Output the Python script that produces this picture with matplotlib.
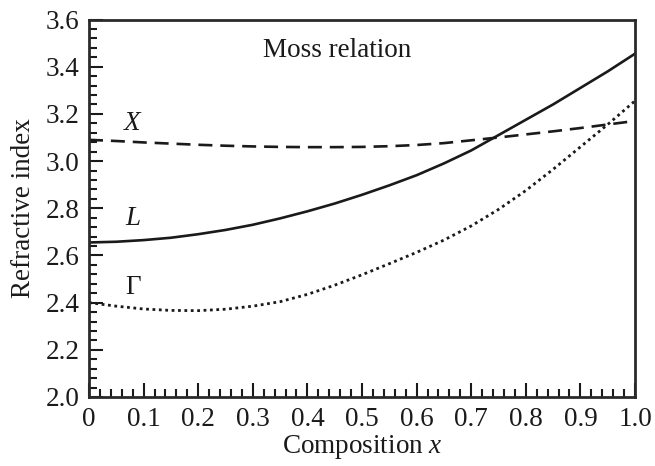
import matplotlib
matplotlib.use("Agg")
import matplotlib.pyplot as plt
from matplotlib.ticker import MultipleLocator

plt.rcParams['font.family'] = ['Liberation Serif', 'DejaVu Serif']
plt.rcParams['mathtext.fontset'] = 'custom'
plt.rcParams['mathtext.it'] = 'Liberation Serif:italic'
plt.rcParams['mathtext.rm'] = 'Liberation Serif'

composition = [0.00, 0.05, 0.10, 0.15, 0.20, 0.25, 0.30, 0.35, 0.40, 0.45, 0.50,
               0.55, 0.60, 0.65, 0.70, 0.75, 0.80, 0.85, 0.90, 0.95, 1.00]
n_L = [2.655, 2.658, 2.665, 2.675, 2.690, 2.708, 2.730, 2.757, 2.787, 2.820, 2.857,
       2.897, 2.940, 2.990, 3.045, 3.110, 3.175, 3.240, 3.310, 3.380, 3.455]
n_X = [3.090, 3.085, 3.079, 3.074, 3.069, 3.065, 3.062, 3.060, 3.059, 3.059, 3.060,
       3.063, 3.068, 3.076, 3.088, 3.100, 3.113, 3.126, 3.140, 3.155, 3.170]
n_G = [2.400, 2.385, 2.373, 2.367, 2.366, 2.372, 2.385, 2.404, 2.435, 2.474, 2.518,
       2.565, 2.613, 2.665, 2.725, 2.795, 2.875, 2.965, 3.060, 3.155, 3.255]

xticks = [0.0, 0.1, 0.2, 0.3, 0.4, 0.5, 0.6, 0.7, 0.8, 0.9, 1.0]
xticklabels = ['0', '0.1', '0.2', '0.3', '0.4', '0.5', '0.6', '0.7', '0.8', '0.9', '1.0']
yticks = [2.0, 2.2, 2.4, 2.6, 2.8, 3.0, 3.2, 3.4, 3.6]
yticklabels = ['2.0', '2.2', '2.4', '2.6', '2.8', '3.0', '3.2', '3.4', '3.6']

fig = plt.figure(figsize=(6.55, 4.66), dpi=100)
ax = fig.add_axes([89/655, 1-397/466, (635-89)/655, (397-19.5)/466])

c = '#1a1a1a'
fs = 19.5
ax.plot(composition, n_L, color=c, lw=1.9, ls='-')
ax.plot(composition, n_X, color=c, lw=1.9, ls=(0, (5.3, 3.0)))
ax.plot(composition, n_G, color=c, lw=2.0, ls=(0, (1, 1.3)))

ax.set_xlim(0, 1.0)
ax.set_ylim(2.0, 3.6)
ax.set_xticks(xticks)
ax.set_xticklabels(xticklabels)
ax.set_yticks(yticks)
ax.set_yticklabels(yticklabels)
ax.xaxis.set_minor_locator(MultipleLocator(0.02))
ax.yaxis.set_minor_locator(MultipleLocator(0.04))
ax.tick_params(which='both', direction='in', top=False, right=False, colors=c,
               labelsize=fs, width=1.5, labelcolor=c)
ax.tick_params(which='major', length=10)
ax.tick_params(which='minor', length=6)
ax.tick_params(axis='x', pad=7)
ax.tick_params(axis='y', pad=7)
for s in ax.spines.values():
    s.set_linewidth(2)
    s.set_color('#2a2a2a')

ax.set_xlabel('Composition $x$', fontsize=fs, color=c, labelpad=1)
ax.set_ylabel('Refractive index', fontsize=fs, color=c, labelpad=7)

ax.text(0.454, 3.47, 'Moss relation', fontsize=fs, ha='center', va='center', color=c)
ax.text(0.08, 3.16, '$X$', fontsize=fs, ha='center', va='center', color=c)
ax.text(0.08, 2.755, '$L$', fontsize=fs, ha='center', va='center', color=c)
ax.text(0.08, 2.466, 'Γ', fontsize=fs, ha='center', va='center', color=c)

fig.savefig('out.png', dpi=100)
